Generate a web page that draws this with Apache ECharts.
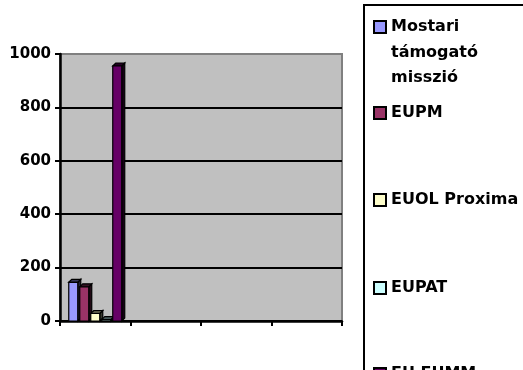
<!DOCTYPE html>
<html>
<head>
<meta charset="utf-8">
<script src="https://cdn.jsdelivr.net/npm/echarts@6/dist/echarts.min.js"></script>
<style>
  html, body { margin: 0; padding: 0; background: #fff; }
  #chart { width: 523px; height: 370px; }
</style>
</head>
<body>
<div id="chart"></div>
<script>
// Mission headcounts: only the first period carries values
const categories = ['1', '2', '3', '4'];
const seriesNames = ['Mostari támogató misszió', 'EUPM', 'EUOL Proxima', 'EUPAT', 'EU EUMM'];
const mostari = [145, null, null, null];
const eupm = [128, null, null, null];
const euol = [28, null, null, null];
const eupat = [5, null, null, null];
const eueumm = [955, null, null, null];
const yTicks = [0, 200, 400, 600, 800, 1000];

const colors = ['#9999FF', '#993366', '#FFFFCC', '#CCFFFF', '#660066'];
const values = [mostari, eupm, euol, eupat, eueumm];
const FONT = 'DejaVu Sans';
const LEGEND_FONT_SIZE = 16;

// bar geometry for the extruded column look
const FACE_W = 9;
const PITCH = 11;
const DEPTH = 3;

const chart = echarts.init(document.getElementById('chart'), null, { renderer: 'canvas' });

function shade(hex, k) {
  const c = echarts.color.parse(hex);
  return 'rgb(' + Math.round(c[0] * k) + ',' + Math.round(c[1] * k) + ',' + Math.round(c[2] * k) + ')';
}

function renderColumn(params, api) {
  const cat = api.value(0);
  const val = api.value(1);
  const top = api.coord([cat, val]);
  const base = api.coord([cat, 0]);
  const n = seriesNames.length;
  const groupW = (n - 1) * PITCH + FACE_W;
  const left = top[0] - groupW / 2 + params.seriesIndex * PITCH;
  const yT = top[1];
  const yB = base[1];
  const color = colors[params.seriesIndex];
  const side = shade(color, 0.22);
  const cap = shade(color, 0.35);
  const edge = { stroke: '#000', lineWidth: 1.2, lineJoin: 'miter' };
  return {
    type: 'group',
    children: [
      {
        type: 'polygon',
        shape: { points: [[left + FACE_W, yT], [left + FACE_W + DEPTH, yT - DEPTH], [left + FACE_W + DEPTH, yB - DEPTH], [left + FACE_W, yB]] },
        style: Object.assign({ fill: side }, edge)
      },
      {
        type: 'polygon',
        shape: { points: [[left, yT], [left + DEPTH, yT - DEPTH], [left + FACE_W + DEPTH, yT - DEPTH], [left + FACE_W, yT]] },
        style: Object.assign({ fill: cap }, edge)
      },
      {
        type: 'rect',
        shape: { x: left, y: yT, width: FACE_W, height: yB - yT },
        style: Object.assign({ fill: color }, edge)
      }
    ]
  };
}

const series = seriesNames.map((name, i) => ({
  name: name,
  type: 'custom',
  renderItem: renderColumn,
  data: values[i].map((v, k) => [k, v]).filter(d => d[1] != null),
  encode: { x: 0, y: 1 },
  itemStyle: { color: colors[i] },
  silent: true,
  animation: false
}));

// one legend block per entry so each can sit at its own height
const legendTops = [19, 105, 192, 280, 366];
const legends = seriesNames.map((name, i) => ({
  data: [name],
  left: 373,
  top: legendTops[i],
  padding: 0,
  orient: 'vertical',
  icon: 'rect',
  itemWidth: 12,
  itemHeight: 12,
  itemStyle: { borderColor: '#000', borderWidth: 2 },
  selectedMode: false,
  formatter: n => (n === seriesNames[0] ? 'Mostari' : n),
  textStyle: {
    fontFamily: FONT,
    fontWeight: 'bold',
    fontSize: LEGEND_FONT_SIZE,
    color: '#000',
    lineHeight: 12
  }
}));

const legendFont = 'bold ' + LEGEND_FONT_SIZE + 'px "DejaVu Sans"';

chart.setOption({
  animation: false,
  backgroundColor: '#fff',
  textStyle: { fontFamily: FONT },
  grid: {
    left: 60,
    right: 181,
    top: 54,
    bottom: 49,
    show: true,
    backgroundColor: '#C0C0C0',
    borderColor: '#808080',
    borderWidth: 2
  },
  legend: legends,
  xAxis: {
    type: 'category',
    data: categories,
    boundaryGap: true,
    axisLine: { show: true, lineStyle: { color: '#000', width: 2.5 } },
    axisTick: { show: true, length: 5, inside: false, lineStyle: { color: '#000', width: 2 } },
    axisLabel: { show: false },
    splitLine: { show: false }
  },
  yAxis: {
    type: 'value',
    min: yTicks[0],
    max: yTicks[yTicks.length - 1],
    interval: yTicks[1] - yTicks[0],
    axisLine: { show: true, lineStyle: { color: '#000', width: 2.5 } },
    axisTick: { show: true, length: 5, lineStyle: { color: '#000', width: 2 } },
    axisLabel: {
      margin: 9,
      fontFamily: FONT,
      fontWeight: 'bold',
      fontSize: 15,
      color: '#000',
      formatter: v => String(v)
    },
    splitLine: {
      show: true,
      lineStyle: { color: ['#000', '#000', '#000', '#000', '#000', '#808080'], width: 2 }
    }
  },
  graphic: [
    {
      type: 'rect',
      shape: { x: 364, y: 5, width: 200, height: 400 },
      style: { fill: 'none', stroke: '#000', lineWidth: 2 },
      silent: true,
      z: -1
    },
    {
      type: 'text',
      style: { text: 'támogató', x: 391, y: 53, fill: '#000', font: legendFont, verticalAlign: 'middle' },
      silent: true
    },
    {
      type: 'text',
      style: { text: 'misszió', x: 391, y: 78, fill: '#000', font: legendFont, verticalAlign: 'middle' },
      silent: true
    }
  ],
  series: series
});
</script>
</body>
</html>
